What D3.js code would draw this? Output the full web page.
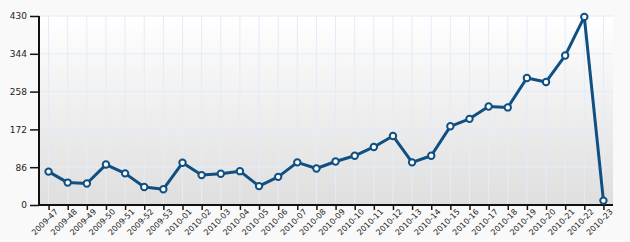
<!DOCTYPE html>
<html>
<head>
<meta charset="utf-8">
<script src="https://cdn.jsdelivr.net/npm/d3@7"></script>
<style>
body { margin: 0; background: #f9f9f9; }
svg { display: block; }
.axis text { font-family: Verdana, "DejaVu Sans", sans-serif; font-size: 8px; fill: #222; }
.axis.y text { font-size: 9px; }
</style>
</head>
<body>
<svg id="chart"></svg>
<script>
const weeks = ['2009-47','2009-48','2009-49','2009-50','2009-51','2009-52','2009-53',
  '2010-01','2010-02','2010-03','2010-04','2010-05','2010-06','2010-07','2010-08','2010-09',
  '2010-10','2010-11','2010-12','2010-13','2010-14','2010-15','2010-16','2010-17','2010-18',
  '2010-19','2010-20','2010-21','2010-22','2010-23'];
const counts = [76,51,49,92,72,41,36,96,68,71,77,43,64,97,83,99,112,132,157,97,112,179,196,224,222,289,280,340,428,10];
const yTicks = [0,86,172,258,344,430];

const W = 630, H = 242;
const mLeft = 39, mRight = 613, mTop = 16, mBottom = 205;

const svg = d3.select('#chart').attr('width', W).attr('height', H);

const defs = svg.append('defs');
const grad = defs.append('linearGradient')
  .attr('id', 'bg').attr('x1', 0).attr('y1', 0).attr('x2', 0).attr('y2', 1);
grad.append('stop').attr('offset', '0%').attr('stop-color', '#ffffff');
grad.append('stop').attr('offset', '100%').attr('stop-color', '#dedede');

const x = d3.scalePoint().domain(weeks).range([mLeft, mRight]).padding(0.5);
const y = d3.scaleLinear().domain([0, 430]).range([mBottom, mTop]);

svg.append('rect')
  .attr('x', mLeft).attr('y', mTop)
  .attr('width', mRight - mLeft).attr('height', mBottom - mTop)
  .attr('fill', 'url(#bg)');

// grid
svg.append('g').selectAll('line')
  .data(weeks)
  .join('line')
  .attr('x1', d => x(d)).attr('x2', d => x(d))
  .attr('y1', mTop).attr('y2', mBottom)
  .attr('stroke', '#e2ecfa').attr('stroke-width', 1);

svg.append('g').selectAll('line')
  .data(yTicks.slice(1))
  .join('line')
  .attr('x1', mLeft).attr('x2', mRight)
  .attr('y1', d => y(d)).attr('y2', d => y(d))
  .attr('stroke', '#e2ecfa').attr('stroke-width', 1);

// axes
const yAxis = svg.append('g')
  .attr('class', 'axis y')
  .attr('transform', `translate(${mLeft},0)`)
  .call(d3.axisLeft(y).tickValues(yTicks).tickSize(9).tickPadding(3));
yAxis.select('.domain').remove();
yAxis.selectAll('line').attr('stroke', '#111').attr('stroke-width', 1.5);
yAxis.append('line')
  .attr('x1', 0).attr('x2', 0).attr('y1', mTop).attr('y2', mBottom + 1)
  .attr('stroke', '#111').attr('stroke-width', 2);

const xAxis = svg.append('g')
  .attr('class', 'axis x')
  .attr('transform', `translate(0,${mBottom})`)
  .call(d3.axisBottom(x).tickSize(5).tickPadding(2));
xAxis.select('.domain').remove();
xAxis.selectAll('line').attr('stroke', '#111').attr('stroke-width', 1.5);
xAxis.append('line')
  .attr('x1', mLeft - 1).attr('x2', mRight).attr('y1', 0).attr('y2', 0)
  .attr('stroke', '#111').attr('stroke-width', 2);
xAxis.selectAll('text')
  .attr('text-anchor', 'end')
  .attr('dx', '0.2em')
  .attr('dy', '0.6em')
  .attr('transform', 'rotate(-45)');

// line
const line = d3.line()
  .x((d, i) => x(weeks[i]))
  .y(d => y(d));

svg.append('path')
  .datum(counts)
  .attr('d', line)
  .attr('fill', 'none')
  .attr('stroke', '#0f4f82')
  .attr('stroke-width', 3)
  .attr('stroke-linejoin', 'round');

svg.append('g').selectAll('circle')
  .data(counts)
  .join('circle')
  .attr('cx', (d, i) => x(weeks[i]))
  .attr('cy', d => y(d))
  .attr('r', 3.2)
  .attr('fill', '#ffffff')
  .attr('stroke', '#0f4f82')
  .attr('stroke-width', 2);
</script>
</body>
</html>
